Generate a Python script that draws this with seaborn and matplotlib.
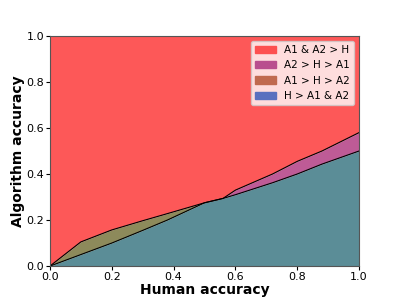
import numpy as np
import seaborn as sns
import matplotlib.pyplot as plt
from matplotlib.patches import Patch

# human accuracy grid and the two boundaries
human_acc = [0.0, 0.1, 0.2, 0.3, 0.38, 0.5, 0.56, 0.6, 0.72, 0.8, 0.88, 1.0]
lower_bound = [0.0, 0.05, 0.1, 0.155, 0.2, 0.275, 0.294, 0.31, 0.362, 0.4, 0.443, 0.5]
upper_bound = [0.0, 0.105, 0.157, 0.197, 0.228, 0.275, 0.294, 0.33, 0.40, 0.455, 0.5, 0.58]

labels = ['A1 & A2 > H', 'A2 > H > A1', 'A1 > H > A2', 'H > A1 & A2']
legend_colors = ['#fd5050', '#b94e8e', '#c06a4f', '#5a70bf']
region_colors = {'red': '#fd5858', 'purple': '#be5b96', 'olive': '#8d8a5b', 'teal': '#5b8d97'}


def main():
    sns.set_style("ticks")
    plt.rcParams['font.family'] = ['DejaVu Sans']
    plt.rcParams.update({'text.color': 'black', 'axes.labelcolor': 'black',
                         'xtick.color': 'black', 'ytick.color': 'black'})

    x = np.array(human_acc)
    lo = np.array(lower_bound)
    hi = np.array(upper_bound)

    fig, ax = plt.subplots(figsize=(3.99, 2.99), dpi=100)
    fig.subplots_adjust(left=0.125, right=0.9, bottom=0.11, top=0.88)

    ax.fill_between(x, hi, 1.0, color=region_colors['red'], lw=0)
    ax.fill_between(x, lo, hi, where=x <= 0.5, interpolate=True, color=region_colors['olive'], lw=0)
    ax.fill_between(x, lo, hi, where=x >= 0.56, interpolate=True, color=region_colors['purple'], lw=0)
    ax.fill_between(x, 0, lo, color=region_colors['teal'], lw=0)
    sns.lineplot(x=x, y=hi, color='black', lw=0.8, ax=ax)
    sns.lineplot(x=x, y=lo, color='black', lw=0.8, ax=ax)

    ax.set_xlim(0, 1)
    ax.set_ylim(0, 1)
    ax.set_xticks(np.arange(0, 1.01, 0.2))
    ax.set_yticks(np.arange(0, 1.01, 0.2))
    ax.tick_params(labelsize=8, length=3, pad=1)
    ax.set_xlabel('Human accuracy', fontsize=10, fontweight='bold', labelpad=1)
    ax.set_ylabel('Algorithm accuracy', fontsize=10, fontweight='bold', labelpad=1)
    for s in ax.spines.values():
        s.set_color('#555555')

    handles = [Patch(color=c, label=l) for c, l in zip(legend_colors, labels)]
    ax.legend(handles=handles, loc='upper right', fontsize=7.5, frameon=True,
              framealpha=0.8, fancybox=True, handlelength=2.0)

    plt.savefig('out.png', dpi=100)


if __name__ == '__main__':
    main()
